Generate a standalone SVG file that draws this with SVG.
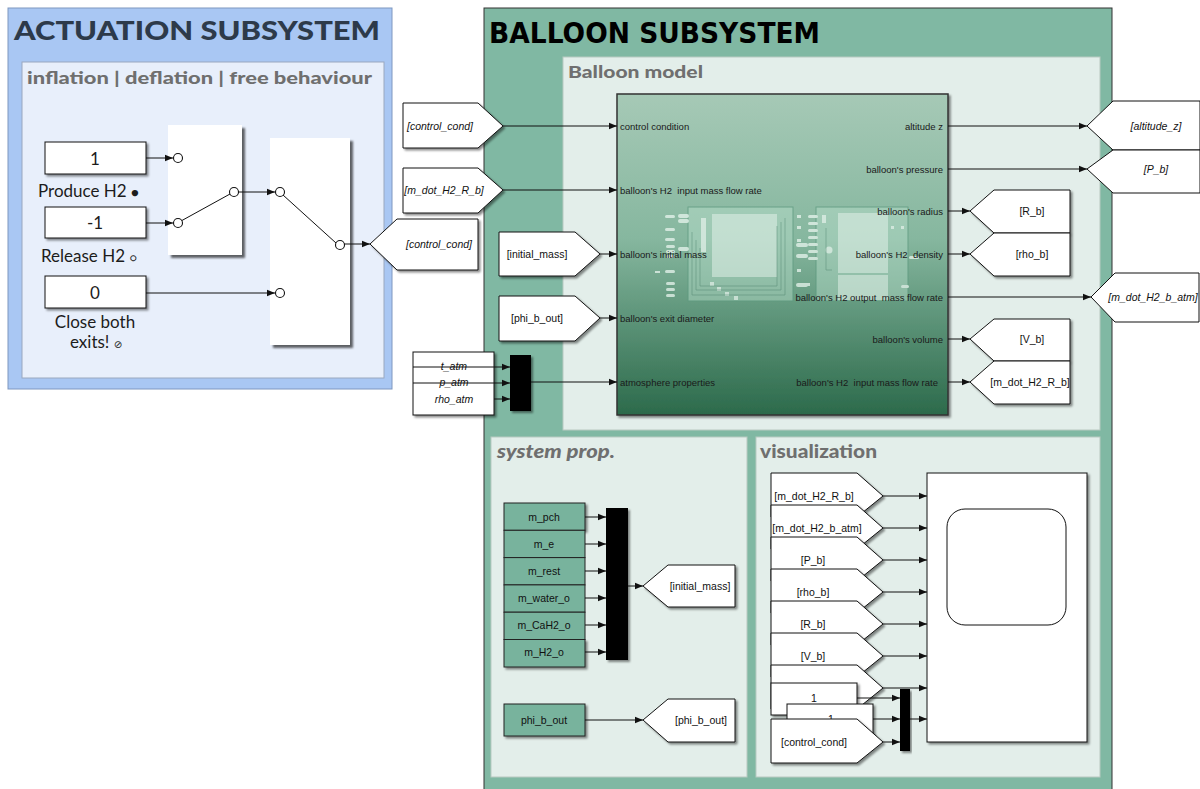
<svg xmlns="http://www.w3.org/2000/svg" width="1200" height="789" viewBox="0 0 1200 789">
  <defs>
    <style>
      .lbl { font-family: "Liberation Sans", Arial, sans-serif; font-size: 10.5px; fill: #111; }
      .ital { font-style: italic; }
      .port { font-family: "Liberation Sans", Arial, sans-serif; font-size: 9.5px; fill: #1a1a1a; white-space: pre; }
      .wire { fill: none; stroke: #111; stroke-width: 1; }
      .wirea { fill: none; stroke: #111; stroke-width: 1; marker-end: url(#ah); }
      .blk { fill: #fff; stroke: #111; stroke-width: 1; }
      .cst { fill: #78b39d; stroke: #222; stroke-width: 1; }
      .mux { fill: #000; }
      .sw { fill: #fff; stroke: none; }
      .pin { fill: #fff; stroke: #111; stroke-width: 1.1; }
      .round { font-family: Lato, "Noto Sans", sans-serif; fill: #1c1c1c; }
      .head { font-family: Lato, "Noto Sans", sans-serif; font-weight: 900; fill: #6f6f6f; }
      .panel { fill: #e3eeea; stroke: #b8c9c1; stroke-width: 1; }
    </style>
    <marker id="ah" viewBox="0 0 10 10" refX="10" refY="5" markerWidth="8" markerHeight="8" markerUnits="userSpaceOnUse" orient="auto">
      <path d="M0,1 L10,5 L0,9 Z" fill="#111"/>
    </marker>
    <filter id="sh" x="-10%" y="-10%" width="130%" height="130%">
      <feDropShadow dx="2" dy="2" stdDeviation="1" flood-color="#000" flood-opacity="0.45"/>
    </filter>
    <filter id="sh2" x="-10%" y="-10%" width="130%" height="130%">
      <feDropShadow dx="3" dy="3" stdDeviation="1.2" flood-color="#000" flood-opacity="0.6"/>
    </filter>
    <linearGradient id="bgrad" x1="0" y1="0" x2="0" y2="1">
      <stop offset="0" stop-color="#a6c9b6"/>
      <stop offset="0.45" stop-color="#86b79f"/>
      <stop offset="1" stop-color="#2c6a4b"/>
    </linearGradient>
  </defs>

  <rect x="0" y="0" width="1200" height="789" fill="#fff"/>

  <!-- ===== Actuation subsystem ===== -->
  <g id="actuation-subsystem">
    <rect x="8" y="8" width="384" height="381" fill="#a9c7f3" stroke="#7e97c0" stroke-width="1"/>
    <text x="14" y="40" font-family="Lato, 'Noto Sans', sans-serif" font-weight="900" font-size="26" fill="#2d3a4a" textLength="366" lengthAdjust="spacingAndGlyphs">ACTUATION SUBSYSTEM</text>
    <rect x="22" y="62" width="362" height="316" fill="#e8effb" stroke="#9aa8bf" stroke-width="1"/>
    <text class="head" x="27" y="84" font-size="17" textLength="345" lengthAdjust="spacingAndGlyphs">inflation | deflation | free behaviour</text>
  </g>

  <g id="const-produce">
    <rect class="blk" x="45" y="142" width="101" height="32" filter="url(#sh)"/>
    <text class="round" x="95" y="165" font-size="17" text-anchor="middle">1</text>
    <text class="round" x="38" y="197" font-size="17">Produce H2 <tspan font-size="13">●</tspan></text>
  </g>
  <g id="const-release">
    <rect class="blk" x="45" y="207" width="101" height="31" filter="url(#sh)"/>
    <text class="round" x="95" y="229" font-size="17" text-anchor="middle">-1</text>
    <text class="round" x="41" y="262" font-size="17">Release H2 <tspan font-size="11">○</tspan></text>
  </g>
  <g id="const-close">
    <rect class="blk" x="45" y="276" width="101" height="32" filter="url(#sh)"/>
    <text class="round" x="95" y="299" font-size="17" text-anchor="middle">0</text>
    <text class="round" x="95" y="328" font-size="17" text-anchor="middle">Close both</text>
    <text class="round" x="70" y="348" font-size="17">exits! <tspan font-family="'DejaVu Sans', sans-serif" font-size="10">⊘</tspan></text>
  </g>

  <g id="switch-inflate-deflate">
    <rect class="sw" x="168" y="125" width="74" height="130" filter="url(#sh2)"/>
    <line class="wire" x1="181" y1="221" x2="230" y2="194"/>
    <circle class="pin" cx="178" cy="158" r="4.5"/>
    <circle class="pin" cx="178" cy="223" r="4.5"/>
    <circle class="pin" cx="234" cy="192" r="4.5"/>
  </g>
  <g id="switch-free">
    <rect class="sw" x="270" y="138" width="80" height="207" filter="url(#sh2)"/>
    <line class="wire" x1="283" y1="195" x2="336" y2="243"/>
    <circle class="pin" cx="280" cy="192" r="4.5"/>
    <circle class="pin" cx="280" cy="293" r="4.5"/>
    <circle class="pin" cx="340" cy="245" r="4.5"/>
  </g>
  <g id="goto-control-cond">
    <path class="blk" d="M370,244 L397,219 H478 V270 H397 Z" filter="url(#sh)"/>
    <text class="lbl ital" x="439" y="248" text-anchor="middle">[control_cond]</text>
  </g>

  <!-- ===== Balloon subsystem ===== -->
  <g id="balloon-subsystem">
    <rect x="484" y="8" width="628" height="800" fill="#80b8a3" stroke="#333" stroke-width="1"/>
    <text x="489" y="43" font-family="'DejaVu Sans', sans-serif" font-weight="bold" font-size="29" fill="#000" textLength="331" lengthAdjust="spacingAndGlyphs">BALLOON SUBSYSTEM</text>
    <rect class="panel" x="563" y="57" width="537" height="373"/>
    <text class="head" x="568" y="78" font-size="17" textLength="135" lengthAdjust="spacingAndGlyphs">Balloon model</text>
    <rect class="panel" x="491" y="437" width="256" height="340"/>
    <text class="head" x="497" y="458" font-size="18" font-style="italic" textLength="118" lengthAdjust="spacingAndGlyphs">system prop.</text>
    <rect class="panel" x="756" y="437" width="344" height="340"/>
    <text class="head" x="760" y="458" font-size="18" textLength="117" lengthAdjust="spacingAndGlyphs">visualization</text>
  </g>

  <!-- balloon model block -->
  <g id="balloon-model">
    <rect x="617" y="94" width="331" height="321" fill="url(#bgrad)" stroke="#333" stroke-width="1.5" filter="url(#sh)"/>
    <g id="inner-preview" opacity="0.75">
      <rect x="688" y="207" width="105" height="94" fill="#bfe3d2" fill-opacity="0.55" stroke="#5f9a80" stroke-width="1"/>
      <rect x="712" y="214" width="65" height="63" fill="#e2f2ea" fill-opacity="0.8"/>
      <rect x="816" y="207" width="92" height="94" fill="#bfe3d2" fill-opacity="0.55" stroke="#5f9a80" stroke-width="1"/>
      <rect x="838" y="213" width="50" height="60" fill="#e2f2ea" fill-opacity="0.8"/>
      <rect x="838" y="275" width="50" height="25" fill="#e2f2ea" fill-opacity="0.8"/>
      <g fill="#e8f5ee">
        <rect x="665" y="215" width="10" height="3" rx="1.5"/>
        <rect x="678" y="214" width="11" height="4" rx="2"/>
        <rect x="678" y="219" width="11" height="4" rx="2"/>
        <rect x="665" y="228" width="10" height="3" rx="1.5"/>
        <rect x="665" y="238" width="10" height="3" rx="1.5"/>
        <rect x="666" y="245" width="9" height="3" rx="1.5"/>
        <rect x="666" y="250" width="9" height="3" rx="1.5"/>
        <rect x="666" y="255" width="9" height="3" rx="1.5"/>
        <rect x="678" y="247" width="11" height="4" rx="2"/>
        <rect x="655" y="271" width="5" height="2"/>
        <rect x="665" y="270" width="10" height="3" rx="1.5"/>
        <rect x="666" y="282" width="9" height="3" rx="1.5"/>
        <rect x="666" y="288" width="9" height="3" rx="1.5"/>
        <rect x="666" y="294" width="9" height="3" rx="1.5"/>
        <rect x="701" y="218" width="5" height="34"/>
        <rect x="710" y="282" width="4" height="4"/>
        <rect x="717" y="287" width="4" height="4"/>
        <rect x="725" y="292" width="4" height="4"/>
        <rect x="734" y="296" width="4" height="4"/>
        <rect x="797" y="215" width="4" height="3"/>
        <rect x="797" y="226" width="4" height="3"/>
        <rect x="797" y="239" width="4" height="3"/>
        <rect x="796" y="243" width="12" height="4" rx="2"/>
        <rect x="796" y="254" width="12" height="4" rx="2"/>
        <rect x="797" y="269" width="4" height="3"/>
        <rect x="796" y="283" width="12" height="4" rx="2"/>
        <rect x="806" y="283" width="4" height="3"/>
        <rect x="808" y="215" width="10" height="3" rx="1.5"/>
        <rect x="808" y="222" width="10" height="3" rx="1.5"/>
        <rect x="808" y="229" width="10" height="3" rx="1.5"/>
        <rect x="808" y="236" width="10" height="3" rx="1.5"/>
        <rect x="808" y="243" width="10" height="3" rx="1.5"/>
        <rect x="808" y="250" width="10" height="3" rx="1.5"/>
        <rect x="808" y="257" width="10" height="3" rx="1.5"/>
        <rect x="822" y="215" width="4" height="8"/>
        <circle cx="829" cy="250" r="3.5"/>
        <rect x="891" y="226" width="3" height="3"/>
        <rect x="901" y="226" width="3" height="3"/>
        <rect x="909" y="256" width="10" height="3" rx="1.5"/>
        <rect x="901" y="285" width="8" height="3" rx="1.5"/>
      </g>
      <g stroke="#5c8f78" stroke-width="0.6" fill="none">
        <path d="M692,232 V295 H785 V218"/>
        <path d="M696,240 V290 H781 V222"/>
        <path d="M700,248 V286 H777 V226"/>
        <path d="M826,228 V270 H832"/>
      </g>
    </g>
    <text class="port" x="620" y="129.5">control condition</text>
    <text class="port" x="620" y="193.5">balloon's H2  input mass flow rate</text>
    <text class="port" x="620" y="257.5">balloon's initial mass</text>
    <text class="port" x="620" y="321.5">balloon's exit diameter</text>
    <text class="port" x="620" y="385.5">atmosphere properties</text>
    <text class="port" x="943" y="129.5" text-anchor="end">altitude z</text>
    <text class="port" x="943" y="172.5" text-anchor="end">balloon's pressure</text>
    <text class="port" x="943" y="214.5" text-anchor="end">balloon's radius</text>
    <text class="port" x="943" y="257.5" text-anchor="end">balloon's H2  density</text>
    <text class="port" x="943" y="300.5" text-anchor="end">balloon's H2 output  mass flow rate</text>
    <text class="port" x="943" y="342.5" text-anchor="end">balloon's volume</text>
    <text class="port" x="938" y="385.5" text-anchor="end">balloon's H2  input mass flow rate</text>
  </g>

  <!-- balloon model inputs -->
  <g id="from-control-cond">
    <path class="blk" d="M403,103 H478 L503,126 L478,148 H403 Z" filter="url(#sh)"/>
    <text class="lbl ital" x="440" y="130" text-anchor="middle">[control_cond]</text>
  </g>
  <g id="from-m-dot-r">
    <path class="blk" d="M403,168 H478 L503,190 L478,213 H403 Z" filter="url(#sh)"/>
    <text class="lbl ital" x="444" y="194" text-anchor="middle">[m_dot_H2_R_b]</text>
  </g>
  <g id="from-initial-mass">
    <path class="blk" d="M499,232 H575 L600,254 L575,276 H499 Z" filter="url(#sh)"/>
    <text class="lbl" x="537" y="258" text-anchor="middle">[initial_mass]</text>
  </g>
  <g id="from-phi">
    <path class="blk" d="M499,296 H575 L600,318 L575,341 H499 Z" filter="url(#sh)"/>
    <text class="lbl" x="537" y="322" text-anchor="middle">[phi_b_out]</text>
  </g>
  <g id="from-atmosphere">
    <rect class="blk" x="413" y="352" width="81" height="63" filter="url(#sh)"/>
    <text class="lbl ital" x="454" y="370" text-anchor="middle">t_atm</text>
    <text class="lbl ital" x="454" y="386" text-anchor="middle">p_atm</text>
    <text class="lbl ital" x="454" y="403" text-anchor="middle">rho_atm</text>
  </g>
  <g id="mux-atmosphere">
    <rect class="mux" x="510" y="355" width="21" height="56" filter="url(#sh)"/>
  </g>

  <!-- balloon model outputs -->
  <g id="goto-altitude">
    <path class="blk" d="M1087,126 L1113,101 H1200 V150 H1113 Z"/>
    <text class="lbl ital" x="1156" y="130" text-anchor="middle">[altitude_z]</text>
  </g>
  <g id="goto-pb">
    <path class="blk" d="M1087,169 L1113,150 H1200 V193 H1113 Z"/>
    <text class="lbl ital" x="1156" y="173" text-anchor="middle">[P_b]</text>
  </g>
  <g id="goto-rb">
    <path class="blk" d="M970,211 L994,190 H1070 V233 H994 Z" filter="url(#sh)"/>
    <text class="lbl" x="1032" y="215" text-anchor="middle">[R_b]</text>
  </g>
  <g id="goto-rho">
    <path class="blk" d="M970,254 L994,233 H1070 V276 H994 Z" filter="url(#sh)"/>
    <text class="lbl" x="1032" y="258" text-anchor="middle">[rho_b]</text>
  </g>
  <g id="goto-m-dot-atm">
    <path class="blk" d="M1091,297 L1115,273 H1199 V322 H1115 Z"/>
    <text class="lbl ital" x="1153" y="301" text-anchor="middle">[m_dot_H2_b_atm]</text>
  </g>
  <g id="goto-vb">
    <path class="blk" d="M970,339 L994,319 H1070 V361 H994 Z" filter="url(#sh)"/>
    <text class="lbl" x="1032" y="343" text-anchor="middle">[V_b]</text>
  </g>
  <g id="goto-m-dot-r">
    <path class="blk" d="M970,382 L994,361 H1070 V404 H994 Z" filter="url(#sh)"/>
    <text class="lbl" x="1030" y="386" text-anchor="middle">[m_dot_H2_R_b]</text>
  </g>

  <!-- system properties -->
  <g id="const-masses">
    <rect class="cst" x="504" y="503" width="81" height="27.3" filter="url(#sh)"/>
    <rect class="cst" x="504" y="530.3" width="81" height="27.3"/>
    <rect class="cst" x="504" y="557.6" width="81" height="27.3"/>
    <rect class="cst" x="504" y="584.9" width="81" height="27.3"/>
    <rect class="cst" x="504" y="612.2" width="81" height="27.3"/>
    <rect class="cst" x="504" y="639.5" width="81" height="27.5" filter="url(#sh)"/>
    <text class="lbl" x="544" y="521" text-anchor="middle">m_pch</text>
    <text class="lbl" x="544" y="548" text-anchor="middle">m_e</text>
    <text class="lbl" x="544" y="575" text-anchor="middle">m_rest</text>
    <text class="lbl" x="544" y="602" text-anchor="middle">m_water_o</text>
    <text class="lbl" x="544" y="629" text-anchor="middle">m_CaH2_o</text>
    <text class="lbl" x="544" y="656" text-anchor="middle">m_H2_o</text>
  </g>
  <g id="mux-masses">
    <rect class="mux" x="606" y="508" width="22" height="152" filter="url(#sh)"/>
  </g>
  <g id="goto-initial-mass">
    <path class="blk" d="M643,586 L668,565 H735 V607 H668 Z" filter="url(#sh)"/>
    <text class="lbl" x="700" y="590" text-anchor="middle">[initial_mass]</text>
  </g>
  <g id="const-phi">
    <rect class="cst" x="504" y="704" width="81" height="32" filter="url(#sh)"/>
    <text class="lbl" x="544" y="724" text-anchor="middle">phi_b_out</text>
  </g>
  <g id="goto-phi">
    <path class="blk" d="M643,720 L668,699 H735 V742 H668 Z" filter="url(#sh)"/>
    <text class="lbl" x="701" y="724" text-anchor="middle">[phi_b_out]</text>
  </g>

  <!-- visualization -->
  <g id="from-vis-1">
    <path class="blk" d="M771,473 H857 L883,496 L857,517 H771 Z" filter="url(#sh)"/>
    <text class="lbl" x="814" y="500" text-anchor="middle" font-size="10">[m_dot_H2_R_b]</text>
  </g>
  <g id="from-vis-2">
    <path class="blk" d="M771,505 H857 L883,528 L857,549 H771 Z" filter="url(#sh)"/>
    <text class="lbl" x="817" y="532" text-anchor="middle" font-size="10">[m_dot_H2_b_atm]</text>
  </g>
  <g id="from-vis-3">
    <path class="blk" d="M771,537 H857 L883,560 L857,581 H771 Z" filter="url(#sh)"/>
    <text class="lbl" x="813" y="564" text-anchor="middle" font-size="10">[P_b]</text>
  </g>
  <g id="from-vis-4">
    <path class="blk" d="M771,569 H857 L883,592 L857,613 H771 Z" filter="url(#sh)"/>
    <text class="lbl" x="813" y="596" text-anchor="middle" font-size="10">[rho_b]</text>
  </g>
  <g id="from-vis-5">
    <path class="blk" d="M771,601 H857 L883,624 L857,645 H771 Z" filter="url(#sh)"/>
    <text class="lbl" x="813" y="628" text-anchor="middle" font-size="10">[R_b]</text>
  </g>
  <g id="from-vis-6">
    <path class="blk" d="M771,633 H857 L883,656 L857,677 H771 Z" filter="url(#sh)"/>
    <text class="lbl" x="813" y="660" text-anchor="middle" font-size="10">[V_b]</text>
  </g>
  <g id="from-vis-7">
    <path class="blk" d="M771,665 H857 L883,688 L857,709 H771 Z" filter="url(#sh)"/>
  </g>
  <g id="const-vis-1">
    <rect class="blk" x="771" y="683" width="86" height="32" filter="url(#sh)"/>
    <text class="lbl" x="814" y="702" text-anchor="middle">1</text>
  </g>
  <g id="const-vis-2">
    <rect class="blk" x="787" y="704" width="86" height="32" filter="url(#sh)"/>
    <text class="lbl" x="831" y="723" text-anchor="middle">1</text>
  </g>
  <g id="from-vis-control">
    <path class="blk" d="M771,719 H857 L883,742 L857,763 H771 Z" filter="url(#sh)"/>
    <text class="lbl" x="814" y="746" text-anchor="middle" font-size="10">[control_cond]</text>
  </g>
  <g id="mux-vis">
    <rect class="mux" x="900" y="689" width="10" height="62" filter="url(#sh)"/>
  </g>
  <g id="scope">
    <rect class="blk" x="927" y="473" width="160" height="269" filter="url(#sh)"/>
    <rect x="947" y="509" width="119" height="116" rx="18" fill="#fff" stroke="#111" stroke-width="1"/>
  </g>

  <!-- connectors -->
  <g id="connectors">
    <line class="wirea" x1="146" y1="158" x2="173" y2="158"/>
    <line class="wirea" x1="146" y1="223" x2="173" y2="223"/>
    <line class="wirea" x1="238" y1="192" x2="275" y2="192"/>
    <line class="wirea" x1="146" y1="293" x2="275" y2="293"/>
    <line class="wirea" x1="344" y1="244" x2="370" y2="244"/>

    <line class="wirea" x1="503" y1="126" x2="617" y2="126"/>
    <line class="wirea" x1="503" y1="190" x2="617" y2="190"/>
    <line class="wirea" x1="600" y1="254" x2="617" y2="254"/>
    <line class="wirea" x1="600" y1="318" x2="617" y2="318"/>
    <line class="wirea" x1="413" y1="367" x2="510" y2="367"/>
    <line class="wirea" x1="413" y1="383" x2="510" y2="383"/>
    <line class="wirea" x1="494" y1="399" x2="510" y2="399"/>
    <line class="wirea" x1="531" y1="382" x2="617" y2="382"/>

    <line class="wirea" x1="948" y1="126" x2="1087" y2="126"/>
    <line class="wirea" x1="948" y1="169" x2="1087" y2="169"/>
    <line class="wirea" x1="948" y1="211" x2="970" y2="211"/>
    <line class="wirea" x1="948" y1="254" x2="970" y2="254"/>
    <line class="wirea" x1="948" y1="297" x2="1091" y2="297"/>
    <line class="wirea" x1="948" y1="339" x2="970" y2="339"/>
    <line class="wirea" x1="948" y1="382" x2="970" y2="382"/>

    <line class="wirea" x1="585" y1="517" x2="606" y2="517"/>
    <line class="wirea" x1="585" y1="544" x2="606" y2="544"/>
    <line class="wirea" x1="585" y1="571" x2="606" y2="571"/>
    <line class="wirea" x1="585" y1="598" x2="606" y2="598"/>
    <line class="wirea" x1="585" y1="625" x2="606" y2="625"/>
    <line class="wirea" x1="585" y1="652" x2="606" y2="652"/>
    <line class="wirea" x1="628" y1="586" x2="643" y2="586"/>
    <line class="wirea" x1="585" y1="720" x2="643" y2="720"/>

    <line class="wirea" x1="883" y1="496" x2="927" y2="496"/>
    <line class="wirea" x1="883" y1="528" x2="927" y2="528"/>
    <line class="wirea" x1="883" y1="560" x2="927" y2="560"/>
    <line class="wirea" x1="883" y1="592" x2="927" y2="592"/>
    <line class="wirea" x1="883" y1="624" x2="927" y2="624"/>
    <line class="wirea" x1="883" y1="656" x2="927" y2="656"/>
    <line class="wirea" x1="883" y1="688" x2="927" y2="688"/>
    <line class="wirea" x1="857" y1="698" x2="900" y2="698"/>
    <line class="wirea" x1="873" y1="719" x2="900" y2="719"/>
    <line class="wirea" x1="883" y1="742" x2="900" y2="742"/>
    <line class="wirea" x1="910" y1="719" x2="927" y2="719"/>
  </g>
</svg>
